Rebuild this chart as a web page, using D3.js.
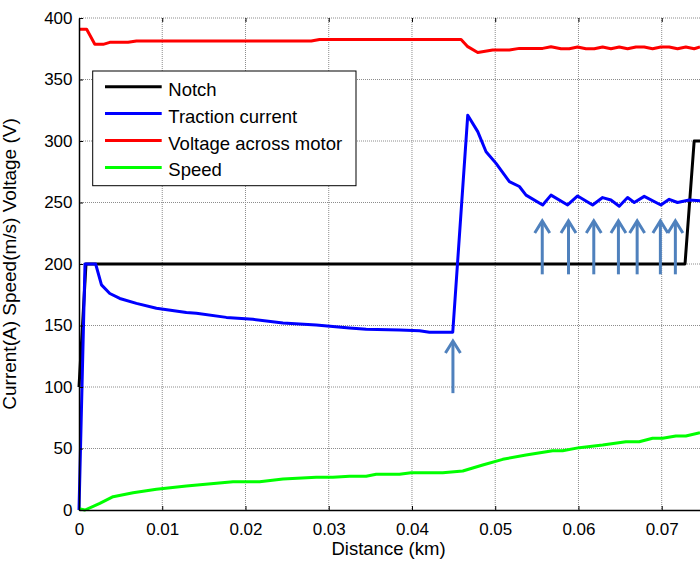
<!DOCTYPE html>
<html>
<head>
<meta charset="utf-8">
<script src="https://cdn.jsdelivr.net/npm/d3@7"></script>
<style>
  body { margin: 0; background: #fff; }
  svg { display: block; font-family: Arial, "Liberation Sans", sans-serif; }
  .grid line { stroke: #8c8c8c; stroke-width: 1; stroke-dasharray: 1,1; }
  .axis path, .axis line { stroke: #000; }
  .axis text { font-size: 17px; fill: #000; }
</style>
</head>
<body>
<svg id="chart"></svg>
<script>
// data: [distance km, value]
const notch = [[0, 100], [0.00084, 200], [0.0728, 200], [0.0739, 300], [0.0746, 300]];

const tractionCurrent = [
  [0, 0], [0.00072, 200], [0.002, 200], [0.0027, 183], [0.0037, 176], [0.0049, 172],
  [0.0069, 168], [0.0093, 164], [0.0129, 160.5], [0.0141, 160], [0.0177, 156.6],
  [0.0209, 155], [0.0245, 152], [0.0285, 150.4], [0.0325, 148], [0.0345, 147],
  [0.0385, 146.3], [0.0409, 145.8], [0.0421, 144.5], [0.0449, 144.5], [0.0467, 321],
  [0.0479, 307.6], [0.0489, 291.3], [0.0501, 281.8], [0.0517, 267], [0.0529, 263],
  [0.0537, 256], [0.0557, 248], [0.0567, 256], [0.0587, 248], [0.0599, 255.3],
  [0.0617, 248], [0.0629, 254], [0.0639, 252], [0.0649, 247], [0.0659, 254],
  [0.0667, 250], [0.0679, 255], [0.0699, 248], [0.0709, 252.6], [0.0719, 250],
  [0.0733, 252], [0.0746, 251.5]
];

const motorVoltage = [
  [0, 390.8], [0.00092, 390.8], [0.0019, 378.6], [0.0029, 378.6], [0.0037, 380.2],
  [0.0059, 380.2], [0.0069, 381.3], [0.0279, 381.3], [0.0289, 382.6], [0.0459, 382.6],
  [0.0467, 376.7], [0.0479, 372], [0.0497, 374], [0.0517, 374], [0.0529, 375.3],
  [0.0557, 375.3], [0.0567, 376.7], [0.0579, 375], [0.0589, 375], [0.0599, 376.4],
  [0.0609, 375], [0.0619, 375], [0.0629, 376.4], [0.0639, 375], [0.0649, 376.4],
  [0.0659, 375], [0.0669, 376.4], [0.0679, 376.4], [0.0689, 375], [0.0699, 376.4],
  [0.0709, 376.4], [0.0719, 375], [0.0729, 376.4], [0.0739, 375], [0.0746, 376.4]
];

const speed = [
  [0, 1], [0.00072, 0], [0.0025, 5.4], [0.0041, 10.8], [0.0065, 14], [0.0093, 16.8],
  [0.0129, 19.5], [0.0185, 23], [0.0217, 23], [0.0245, 25.2], [0.0285, 26.6],
  [0.0305, 26.6], [0.0325, 27.5], [0.0345, 27.5], [0.0357, 29], [0.0385, 29],
  [0.0399, 30.3], [0.0437, 30.3], [0.0461, 31.7], [0.0485, 36.6], [0.0509, 41.2],
  [0.0537, 44.7], [0.0569, 48.2], [0.0581, 48.2], [0.0601, 50.7], [0.0629, 52.8],
  [0.0657, 55.5], [0.0673, 55.5], [0.0689, 58.3], [0.0701, 58.3], [0.0717, 60.2],
  [0.0729, 60.2], [0.0746, 62.9]
];

const seriesNames = ['Notch', 'Traction current', 'Voltage across motor', 'Speed'];
const seriesColors = ['#000000', '#0000ff', '#ff0000', '#00ff00'];

const xTicks = [0, 0.01, 0.02, 0.03, 0.04, 0.05, 0.06, 0.07];
const yTicks = [0, 50, 100, 150, 200, 250, 300, 350, 400];

// annotation arrows (distance, tail value, tip value)
const arrowX = [0.04492, 0.05565, 0.0588, 0.06184, 0.0648, 0.06705, 0.06984, 0.07164];
const arrowTail = [95, 191.6, 191.6, 191.6, 191.6, 191.6, 191.6, 191.6];
const arrowTip = [137.4, 235, 235, 235, 235, 235, 235, 235];

const W = 700, H = 563;
const margin = {top: 18, right: 0, bottom: 53, left: 79},
    width = W - margin.left - margin.right,
    height = H - margin.top - margin.bottom;

const svg = d3.select('#chart').attr('width', W).attr('height', H);
svg.append('rect').attr('width', W).attr('height', H).attr('fill', '#fff');

const g = svg.append('g')
  .attr('transform', 'translate(' + margin.left + ',' + margin.top + ')');

const x = d3.scaleLinear().domain([0, 0.0746]).range([0, width]);
const y = d3.scaleLinear().domain([0, 400]).range([height, 0]);

// grid
g.append('g').attr('class', 'grid')
  .selectAll('line').data(xTicks.slice(1)).enter().append('line')
  .attr('x1', d => x(d)).attr('x2', d => x(d))
  .attr('y1', 0).attr('y2', height);

g.append('g').attr('class', 'grid')
  .selectAll('line').data(yTicks.slice(1)).enter().append('line')
  .attr('x1', 0).attr('x2', width)
  .attr('y1', d => y(d)).attr('y2', d => y(d));

// series
const line = d3.line().x(d => x(d[0])).y(d => y(d[1]));
const allSeries = [notch, tractionCurrent, motorVoltage, speed];

g.selectAll('.series').data(allSeries).enter().append('path')
  .attr('class', 'series')
  .attr('d', line)
  .attr('fill', 'none')
  .attr('stroke', (d, i) => seriesColors[i])
  .attr('stroke-width', 3)
  .attr('stroke-linejoin', 'round');

// axes
const fmtX = d => d === 0 ? '0' : d3.format('.2f')(d);

g.append('g').attr('class', 'axis')
  .attr('transform', 'translate(0,' + height + ')')
  .call(d3.axisBottom(x).tickValues(xTicks).tickFormat(fmtX).tickSize(-4).tickSizeOuter(0).tickPadding(13))
  .call(a => a.select('.domain').attr('stroke-width', 1.5));

g.append('g').attr('class', 'axis')
  .call(d3.axisLeft(y).tickValues(yTicks).tickSize(-4).tickSizeOuter(0).tickPadding(6.5))
  .call(a => a.select('.domain').attr('stroke-width', 1.5));

g.append('g').attr('class', 'axis')
  .call(d3.axisTop(x).tickValues(xTicks).tickFormat('').tickSize(-4).tickSizeOuter(0))
  .call(a => a.select('.domain').remove());

// arrows
const arrows = g.selectAll('.arrow').data(arrowX).enter().append('g')
  .attr('class', 'arrow')
  .attr('stroke', '#4f81bd')
  .attr('stroke-width', 3)
  .attr('fill', 'none');

arrows.append('line')
  .attr('x1', d => x(d)).attr('x2', d => x(d))
  .attr('y1', (d, i) => y(arrowTail[i])).attr('y2', (d, i) => y(arrowTip[i]) + 1);

arrows.append('path')
  .attr('d', (d, i) => {
    const px = x(d), py = y(arrowTip[i]);
    return 'M' + (px - 7.5) + ',' + (py + 12) + 'L' + px + ',' + py + 'L' + (px + 7.5) + ',' + (py + 12);
  });

// labels
svg.append('text')
  .attr('x', margin.left + width / 2 - 1)
  .attr('y', 555)
  .attr('text-anchor', 'middle')
  .attr('font-size', 18.5)
  .text('Distance (km)');

svg.append('text')
  .attr('transform', 'translate(16,' + (margin.top + height / 2) + ') rotate(-90)')
  .attr('text-anchor', 'middle')
  .attr('font-size', 19)
  .text('Current(A) Speed(m/s) Voltage (V)');

// legend
const legend = svg.append('g').attr('transform', 'translate(92.7,71)');
legend.append('rect')
  .attr('width', 263.3).attr('height', 114.7)
  .attr('fill', '#fff').attr('stroke', '#000').attr('stroke-width', 1);

const rows = legend.selectAll('.row').data(seriesNames).enter().append('g')
  .attr('class', 'row')
  .attr('transform', (d, i) => 'translate(0,' + (15.7 + i * 26.9) + ')');

rows.append('line')
  .attr('x1', 12.3).attr('x2', 69)
  .attr('stroke', (d, i) => seriesColors[i])
  .attr('stroke-width', 3);

rows.append('text')
  .attr('x', 75.6).attr('y', 9)
  .attr('font-size', 18.5)
  .text(d => d);
</script>
</body>
</html>
